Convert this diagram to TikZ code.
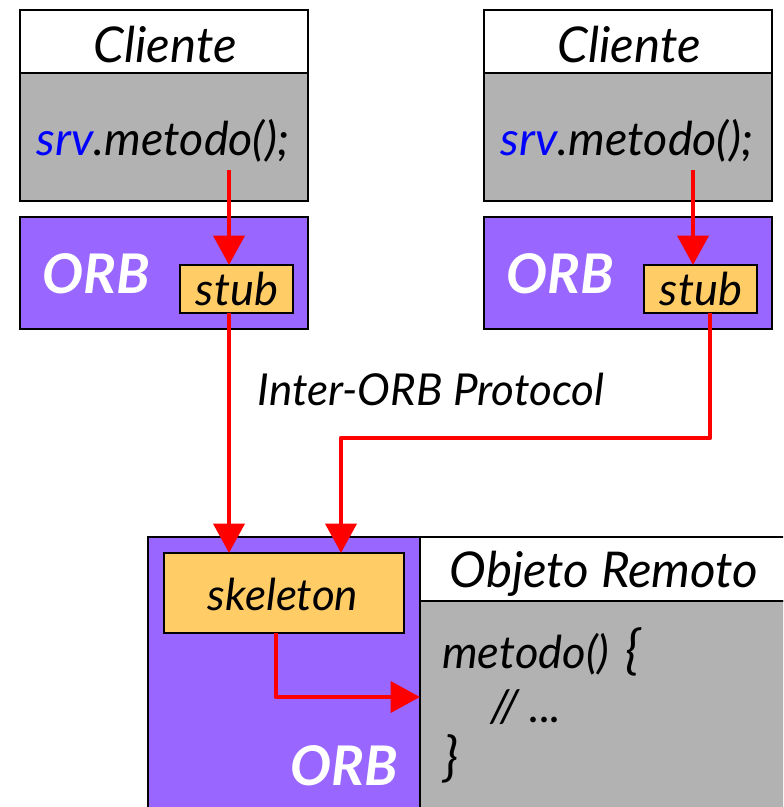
\documentclass[tikz,border=0pt]{standalone}
\usepackage{fontspec}
\setmainfont{Lato}
\usetikzlibrary{arrows.meta}
\begin{document}
\begin{tikzpicture}[x=0.75pt,y=-0.75pt,
  box/.style={draw=black,line width=1.5pt,anchor=north west,inner sep=0pt,outer sep=0pt},
  hdr/.style={box,fill=white},
  body/.style={box,fill=gray70},
  orbbox/.style={box,fill=orbpurple},
  stubbox/.style={box,fill=stuborange},
  txt/.style={anchor=base,inner sep=0pt,font=\itshape\fontsize{37}{42}\selectfont},
  orbtxt/.style={anchor=base,inner sep=0pt,text=white,font=\bfseries\itshape\fontsize{41}{46}\selectfont},
  conn/.style={draw=red,line width=3.6pt,line join=round,-{Triangle[length=22pt,width=23pt]}}
]
\definecolor{gray70}{HTML}{B2B2B2}
\definecolor{orbpurple}{HTML}{9966FF}
\definecolor{stuborange}{HTML}{FFCC66}
\useasboundingbox (0,0) rectangle (783,807);
\clip (0,0) rectangle (783,807);
% left client
\node[hdr,minimum width=288*0.75pt,minimum height=63*0.75pt] (c1h) at (20,10) {};
\node[body,minimum width=288*0.75pt,minimum height=128*0.75pt] (c1b) at (20,73) {};
\node[orbbox,minimum width=288*0.75pt,minimum height=112*0.75pt] (orb1) at (20,217) {};
\node[stubbox,minimum width=113*0.75pt,minimum height=48*0.75pt] (stub1) at (180,265) {};
% right client
\node[hdr,minimum width=288*0.75pt,minimum height=63*0.75pt] (c2h) at (484,10) {};
\node[body,minimum width=288*0.75pt,minimum height=128*0.75pt] (c2b) at (484,73) {};
\node[orbbox,minimum width=288*0.75pt,minimum height=112*0.75pt] (orb2) at (484,217) {};
\node[stubbox,minimum width=113*0.75pt,minimum height=48*0.75pt] (stub2) at (644,265) {};
% server side
\node[orbbox,minimum width=272*0.75pt,minimum height=300*0.75pt] (orb3) at (148,537) {};
\node[stubbox,minimum width=240*0.75pt,minimum height=80*0.75pt] (skel) at (164,553) {};
\node[hdr,minimum width=380*0.75pt,minimum height=64*0.75pt] (objh) at (420,537) {};
\node[body,minimum width=380*0.75pt,minimum height=230*0.75pt] (objb) at (420,601) {};
% texts
\node[txt] (t1) at (165,62) {Cliente};
\node[txt,font=\itshape\fontsize{35}{40}\selectfont] (m1) at (163,155) {\textcolor{blue}{srv}.metodo();};
\node[orbtxt,anchor=base west] (o1) at (42,293) {ORB};
\node[txt,font=\itshape\fontsize{34}{38}\selectfont] (st1) at (237,305) {stub};
\node[txt] (t2) at (629,62) {Cliente};
\node[txt,font=\itshape\fontsize{35}{40}\selectfont] (m2) at (627,155) {\textcolor{blue}{srv}.metodo();};
\node[orbtxt,anchor=base west] (o2) at (506,293) {ORB};
\node[txt,font=\itshape\fontsize{34}{38}\selectfont] (st2) at (701,305) {stub};
\node[txt,font=\itshape\fontsize{33}{38}\selectfont] (iop) at (431,405) {Inter-ORB Protocol};
\node[txt,font=\itshape\fontsize{33}{38}\selectfont] (sk) at (283,610) {skeleton};
\node[txt,font=\itshape\fontsize{37}{42}\selectfont] (ob) at (604,587) {Objeto Remoto};
\node[txt,anchor=base west,font=\itshape\fontsize{34}{38}\selectfont] (code1) at (442,668) {metodo()\hspace{0.35em}{\fontsize{40}{44}\selectfont\{}};
\node[txt,anchor=base west,font=\itshape\fontsize{34}{38}\selectfont] (code2) at (490,722) {// ...};
\node[txt,anchor=base west,font=\itshape\fontsize{40}{44}\selectfont] (code3) at (443,775) {\}};
\node[orbtxt,anchor=base east] (o3) at (398,785) {ORB};
% connectors
\coordinate (s1) at (229,170);
\coordinate (s2) at (693,170);
\coordinate (k1) at (229,313);
\coordinate (k2) at (710,313);
\coordinate (bend) at (341,438);
\coordinate (k3) at (276,633);
\coordinate (bend2) at (276,697);
\draw[conn] (s1) -- (s1 |- stub1.north);
\draw[conn] (s2) -- (s2 |- stub2.north);
\draw[conn] (k1) -- (k1 |- skel.north);
\draw[conn] (k2) -- (k2 |- bend) -- (bend) -- (bend |- skel.north);
\draw[conn] (k3) -- (bend2) -- (bend2 -| objb.west);
\end{tikzpicture}
\end{document}
